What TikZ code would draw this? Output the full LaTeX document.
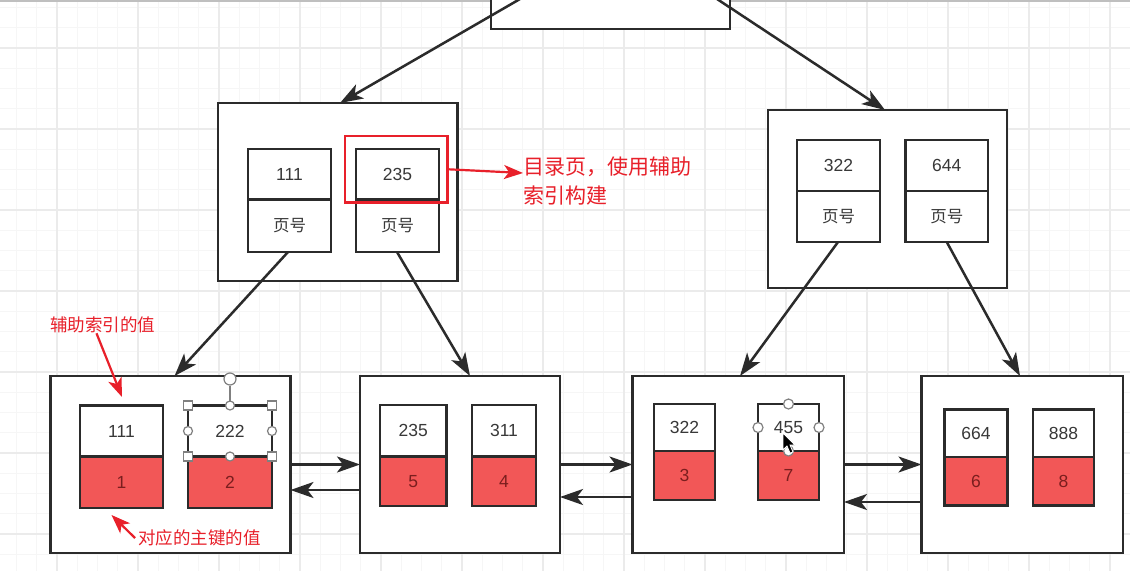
\documentclass[tikz,border=0pt]{standalone}
\usepackage{fontspec}
\setmainfont{Liberation Sans}
\newfontfamily\cjk{Noto Sans CJK SC}
\usetikzlibrary{arrows.meta}

\definecolor{ln}{HTML}{2B2B2B}
\definecolor{txt}{HTML}{383838}
\definecolor{pk}{HTML}{F25757}
\definecolor{pktxt}{HTML}{7A1E1E}
\definecolor{annot}{HTML}{E8202A}
\definecolor{gmajor}{HTML}{EBEBEB}
\definecolor{gminor}{HTML}{F6F6F6}
\definecolor{handle}{HTML}{808080}

\tikzset{
  page/.style={draw=ln, line width=2.5pt, fill=white, inner sep=0pt, outer sep=0pt, anchor=north west},
  keycell/.style={draw=ln, line width=2.5pt, fill=white, inner sep=0pt, outer sep=0pt, anchor=north west,
    text=txt, font=\fontsize{17.5}{20}\selectfont},
  pagecell/.style={keycell, font=\cjk\fontsize{16.5}{20}\selectfont},
  pkcell/.style={keycell, fill=pk, text=pktxt},
  link/.style={draw=ln, line width=2.5pt, -{Stealth[length=23pt,width=16pt,inset=6pt]}},
  notelink/.style={draw=annot, line width=2.2pt, -{Stealth[length=19pt,width=14pt,inset=5pt]}},
  note/.style={text=annot, inner sep=0pt, align=left},
  hcirc/.style={circle, draw=handle, fill=white, line width=1.2pt, inner sep=0pt, minimum size=9pt},
  hsq/.style={rectangle, draw=handle, fill=white, line width=1.2pt, inner sep=0pt, minimum size=9pt},
  gridminor/.style={draw=gminor, line width=0.8pt},
  gridmajor/.style={draw=gmajor, line width=1.2pt},
}

% one record: key on top, value below
% #1 name, #2 left x, #3 width, #4 top y, #5 key height, #6 value height, #7 key, #8 value, #9 value style
\newcommand\kvcell[9]{%
  \node[keycell, minimum width=#3pt, minimum height=#5pt] (#1k) at (#2,#4) {#7};
  \node[#9, minimum width=#3pt, minimum height=#6pt] (#1v) at (#1k.south west) {#8};
}

\begin{document}
\begin{tikzpicture}[x=1pt,y=-1pt]
\useasboundingbox (0,0) rectangle (1130,571);
\clip (0,0) rectangle (1130,571);
\fill[white] (0,0) rectangle (1130,571);

% background grid
\foreach \i in {0,...,55} \draw[gridminor] ({16.5+20.25*\i},0) -- ++(0,571);
\foreach \i in {0,...,28} \draw[gridminor] (0,{7.5+20.25*\i}) -- ++(1130,0);
\foreach \i in {0,...,14} \draw[gridmajor] ({-24+81*\i},0) -- ++(0,571);
\foreach \i in {0,...,6} \draw[gridmajor] (0,{48+81*\i}) -- ++(1130,0);
\draw[draw=black!25, line width=1.5pt] (0,0.75) -- (1130,0.75);

% pages
\node[page, minimum width=239pt, minimum height=40pt] (root) at (491,-11) {};
\node[page, minimum width=239.5pt, minimum height=178pt] (intL) at (218,103) {};
\node[page, minimum width=239pt, minimum height=178pt] (intR) at (768,110) {};
\node[page, minimum width=240pt, minimum height=177pt] (leafA) at (50.5,376) {};
\node[page, minimum width=200pt, minimum height=177pt] (leafB) at (360,376) {};
\node[page, minimum width=211.5pt, minimum height=177pt] (leafC) at (632.5,376) {};
\node[page, minimum width=201.5pt, minimum height=177pt] (leafD) at (921.5,376) {};

% directory records
\kvcell{a}{248}{83}{149}{50.5}{52.5}{111}{页号}{pagecell}
\kvcell{b}{356}{83}{149}{50.5}{52.5}{235}{页号}{pagecell}
\kvcell{c}{797}{83}{140}{51}{51}{322}{页号}{pagecell}
\kvcell{d}{905.5}{82.5}{140}{51}{51}{644}{页号}{pagecell}

% leaf records
\kvcell{e}{80}{83}{405.5}{51}{51.5}{111}{1}{pkcell}
\kvcell{f}{188}{84}{405.5}{51}{51.5}{222}{2}{pkcell}
\kvcell{g}{380}{66.5}{405}{51.5}{49.5}{235}{5}{pkcell}
\kvcell{h}{472}{64}{405}{51.5}{49.5}{311}{4}{pkcell}
\kvcell{i}{654}{61}{404}{47}{49}{322}{3}{pkcell}
\kvcell{j}{758}{61}{404}{47}{49}{455}{7}{pkcell}
\kvcell{k}{944.5}{63}{409.5}{47.5}{48.5}{664}{6}{pkcell}
\kvcell{l}{1033}{61}{409.5}{47.5}{48.5}{888}{8}{pkcell}

% tree links
\coordinate (rootL) at (520,-1);
\coordinate (rootR) at (717,-1);
\draw[link] (rootL) -- ([xshift=122pt]intL.north west);
\draw[link] (rootR) -- ([xshift=117pt]intR.north west);
\draw[link] ([xshift=-1.5pt]av.south) -- ([xshift=124pt]leafA.north west);
\draw[link] ([xshift=-0.5pt]bv.south) -- ([xshift=110pt]leafB.north west);
\draw[link] ([xshift=-0.5pt]cv.south) -- ([xshift=107.5pt]leafC.north west);
\draw[link] ([xshift=0pt]dv.south) -- ([xshift=98.5pt]leafD.north west);

% sibling links between leaves
\draw[link] (leafA.east) -- (leafB.west);
\draw[link] ([yshift=-25.5pt]leafB.west) -- ([yshift=-25.5pt]leafA.east);
\draw[link] (leafB.east) -- (leafC.west);
\draw[link] ([yshift=-32.5pt]leafC.west) -- ([yshift=-32.5pt]leafB.east);
\draw[link] (leafC.east) -- (leafD.west);
\draw[link] ([yshift=-37.5pt]leafD.west) -- ([yshift=-37.5pt]leafC.east);

% highlighted directory entry and notes
\node[draw=annot, line width=2.5pt, inner sep=0pt, outer sep=0pt, anchor=north west,
      minimum width=102.5pt, minimum height=66.5pt] (hl) at (345,136) {};
\node[note, anchor=west, font=\cjk\fontsize{21}{29}\selectfont] (tagdir) at (523,181.5)
  {目录页，使用辅助\\索引构建};
\draw[notelink] (hl.east) -- ([yshift=8.5pt]tagdir.west);

\node[note, font=\cjk\fontsize{17.5}{20}\selectfont] (tagkey) at (102.5,325) {辅助索引的值};
\coordinate (tagkeyTip) at (122,397);
\draw[notelink] ([xshift=-6pt]tagkey.south) -- (tagkeyTip);

\node[note, font=\cjk\fontsize{17.5}{20}\selectfont] (tagpk) at (199.5,538) {对应的主键的值};
\coordinate (tagpkTip) at (111.5,515);
\draw[notelink] ([xshift=-3pt]tagpk.west) -- (tagpkTip);

% selection handles on record 222
\node[hcirc, minimum size=12pt] (rot) at (230,379) {};
\draw[draw=handle, line width=1.2pt] (rot.south) -- (fk.north);
\foreach \a in {north west,north east,south west,south east}
  \node[hsq] at (fk.\a) {};
\foreach \a in {north,south,west,east}
  \node[hcirc] at (fk.\a) {};

% selection handles on record 455 and the mouse pointer
\foreach \a in {north,south,west,east}
  \node[hcirc, minimum size=10pt] at (jk.\a) {};
\fill[black, draw=white, line width=0.8pt, shift={(783,433)}]
  (0,0) -- (0,17) -- (4,13) -- (7,20) -- (10,19) -- (7,12) -- (12,12) -- cycle;
\end{tikzpicture}
\end{document}
